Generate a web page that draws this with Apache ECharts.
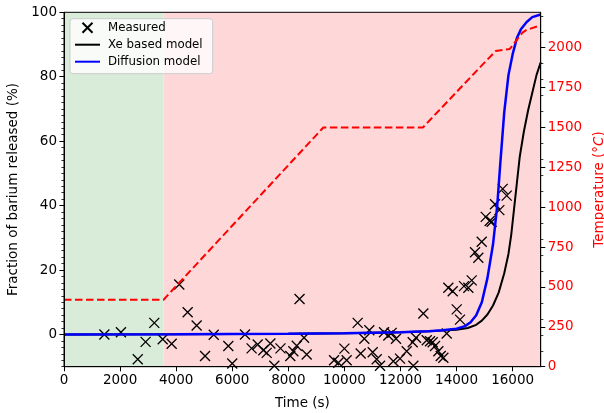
<!DOCTYPE html>
<html>
<head>
<meta charset="utf-8">
<script src="https://cdn.jsdelivr.net/npm/echarts@6/dist/echarts.min.js"></script>
<style>
html,body{margin:0;padding:0;background:#fff;}
#chart{width:604px;height:413px;}
</style>
</head>
<body>
<div id="chart"></div>
<script>
// ---- data ----
const measuredTime = [1440,2030,2630,2910,3220,3520,3840,4110,4410,4730,5030,5340,5860,6000,6455,6690,6907,7108,7228,7360,7500,7720,8070,8178,8300,8400,8560,8655,9630,9783,10000,10080,10473,10580,10710,10888,11009,11152,11270,11413,11566,11685,11744,11840,11983,12221,12435,12458,12553,12815,12935,13053,13148,13231,13350,13435,13528,13648,13706,13862,14005,14122,14265,14420,14540,14658,14775,14896,15040,15180,15252,15371,15525,15645,15788];
const measuredFrac = [0,0.7,-7.7,-2.3,3.6,-1.5,-2.9,15.5,6.9,2.8,-6.7,-0.1,-3.6,-9.0,0,-4.3,-3.1,-4.9,-5.7,-2.8,-9.7,-4.3,-6.7,-5.2,-3.5,11.0,-1.0,-6.2,-8.0,-8.8,-4.4,-8.0,3.6,-5.9,-1.3,1.3,-5.5,-7.7,-9.7,0.7,-0.3,0.5,-8.3,-1.3,-7.5,-5.2,-2.4,-9.7,-1.0,6.5,-1.8,-2.1,-2.4,-3.6,-5.2,-6.7,-7.2,0.3,14.5,13.4,7.8,4.6,15.0,14.5,16.8,25.5,23.8,28.8,36.5,35.2,35.0,40.4,38.6,45.2,43.1];

const xeTime = [0,4000,8000,10000,12000,13000,13500,14000,14400,14700,14900,15100,15300,15500,15700,15850,15950,16050,16150,16250,16400,16550,16700,16850,17000];
const xeFrac = [0,0.05,0.2,0.35,0.7,1.0,1.2,1.5,2.0,3.0,4.3,6.2,9.0,13.0,19.0,25.0,31.0,39.0,47.0,55.0,63.0,69.5,75.0,80.5,84.5];

const diffTime = [0,4000,8000,10000,12000,13000,13500,14000,14300,14500,14700,14900,15100,15300,15450,15550,15700,15850,16000,16150,16300,16500,16700,17000];
const diffFrac = [0,0.05,0.2,0.35,0.7,1.0,1.3,1.8,2.6,3.8,6.0,10.0,17.5,28.0,40.0,52.0,69.0,80.5,87.0,92.0,94.8,97.0,98.5,99.3];

const tempTime = [0,3550,9250,12800,14850,15400,15900,16350,16500,17000];
const tempValue = [420,420,1500,1500,1880,1980,1992,2095,2112,2140];

const phaseBounds = [0,3550,17000];

const timeTicks = [0,2000,4000,6000,8000,10000,12000,14000,16000];
const fracTicks = [0,20,40,60,80,100];
const tempTicks = [0,250,500,750,1000,1250,1500,1750,2000];
const fracMinorTicks = [];
for (let v = -10; v <= 100; v += 2) fracMinorTicks.push(v);
const tempMinorTicks = [];
for (let v = 0; v <= 2200; v += 100) tempMinorTicks.push(v);

const seriesNames = ['Measured','Xe based model','Diffusion model'];

// ---- chart ----
const FONT = 'DejaVu Sans';
const chart = echarts.init(document.getElementById('chart'), null, {renderer:'canvas'});
const zip = (a,b) => a.map((v,i)=>[v,b[i]]);
const XPATH = 'path://M0,0L10,10M0,10L10,0';
const LINEPATH = 'path://M0,0H25V2H0Z';
const plain = v => String(v);

const option = {
  animation:false,
  backgroundColor:'#fff',
  textStyle:{fontFamily:FONT},
  grid:{left:64,right:63.3,top:12.3,bottom:46.3,show:true,borderColor:'#000',borderWidth:1,backgroundColor:'transparent',z:20,containLabel:false,outerBoundsMode:'none'},
  legend:{
    orient:'vertical',left:70,top:18.7,
    padding:[2,10,5,5],
    itemWidth:25,itemHeight:10,itemGap:3,
    backgroundColor:'rgba(255,255,255,0.8)',borderColor:'#cccccc',borderWidth:1,borderRadius:3,
    textStyle:{fontFamily:FONT,fontSize:11.8,color:'#000',lineHeight:14,padding:[0,0,0,3]},
    data:[
      {name:seriesNames[0],icon:XPATH},
      {name:seriesNames[1],icon:LINEPATH},
      {name:seriesNames[2],icon:LINEPATH}
    ],
    z:30
  },
  xAxis:{
    type:'value',min:0,max:17000,z:20,
    name:'Time (s)',nameLocation:'middle',nameGap:30,
    nameTextStyle:{fontFamily:FONT,fontSize:13.5,color:'#000'},
    axisLine:{show:true,onZero:false,lineStyle:{color:'#000',width:1}},
    axisTick:{show:true,length:4.6,lineStyle:{color:'#000',width:1},customValues:timeTicks},
    axisLabel:{fontFamily:FONT,fontSize:13.5,color:'#000',margin:7,customValues:timeTicks,formatter:plain},
    splitLine:{show:false}
  },
  yAxis:[
    {
      type:'value',min:-10,max:100,position:'left',z:20,
      name:'Fraction of barium released (%)',nameLocation:'middle',nameGap:35,nameRotate:90,
      nameTextStyle:{fontFamily:FONT,fontSize:13.5,color:'#000'},
      axisLine:{show:true,onZero:false,lineStyle:{color:'#000',width:1}},
      axisTick:{show:true,length:4.6,lineStyle:{color:'#000',width:1},customValues:fracTicks},
      axisLabel:{fontFamily:FONT,fontSize:13.5,color:'#000',margin:7,customValues:fracTicks,formatter:plain},
      splitLine:{show:false}
    },
    {
      type:'value',min:0,max:2222,position:'right',z:20,
      name:'Temperature (°{i|C})',nameLocation:'middle',nameGap:44,nameRotate:90,
      nameTextStyle:{fontFamily:FONT,fontSize:13.5,color:'#ff0000',rich:{i:{fontFamily:FONT,fontSize:13.5,fontStyle:'italic',color:'#ff0000'}}},
      axisLine:{show:true,onZero:false,lineStyle:{color:'#000',width:1}},
      axisTick:{show:true,length:4.6,lineStyle:{color:'#000',width:1},customValues:tempTicks},
      axisLabel:{fontFamily:FONT,fontSize:13.5,color:'#ff0000',margin:7,customValues:tempTicks,formatter:plain},
      splitLine:{show:false}
    },
    {
      type:'value',min:-10,max:100,position:'left',z:20,
      axisLine:{show:false,onZero:false},
      axisTick:{show:true,length:2.6,lineStyle:{color:'#000',width:0.8},customValues:fracMinorTicks},
      axisLabel:{show:false},splitLine:{show:false}
    },
    {
      type:'value',min:0,max:2222,position:'right',z:20,
      axisLine:{show:false,onZero:false},
      axisTick:{show:true,length:2.6,lineStyle:{color:'#000',width:0.8},customValues:tempMinorTicks},
      axisLabel:{show:false},splitLine:{show:false}
    }
  ],
  series:[
    {
      name:seriesNames[0],type:'scatter',xAxisIndex:0,yAxisIndex:0,z:3,
      symbol:XPATH,symbolSize:10,symbolKeepAspect:true,
      itemStyle:{color:'rgba(0,0,0,0)',borderColor:'#000',borderWidth:1.3,opacity:1},
      data:zip(measuredTime,measuredFrac)
    },
    {
      name:seriesNames[1],type:'line',xAxisIndex:0,yAxisIndex:0,z:4,
      showSymbol:false,symbol:'none',
      lineStyle:{color:'#000',width:2},itemStyle:{color:'#000'},
      data:zip(xeTime,xeFrac)
    },
    {
      name:seriesNames[2],type:'line',xAxisIndex:0,yAxisIndex:0,z:9,
      showSymbol:false,symbol:'none',
      lineStyle:{color:'#0000ff',width:2.5},itemStyle:{color:'#0000ff'},
      data:zip(diffTime,diffFrac)
    },
    {
      name:'Temperature',type:'line',xAxisIndex:0,yAxisIndex:1,z:12,
      showSymbol:false,symbol:'none',
      lineStyle:{color:'#ff0000',width:2,type:[7.5,3.5]},itemStyle:{color:'#ff0000'},
      data:zip(tempTime,tempValue),
      markArea:{
        silent:true,z:1,
        data:[
          [{xAxis:phaseBounds[0],itemStyle:{color:'#d9ebd9'}},{xAxis:phaseBounds[1]}],
          [{xAxis:phaseBounds[1],itemStyle:{color:'#fed7d8'}},{xAxis:phaseBounds[2]}]
        ]
      }
    }
  ]
};
chart.setOption(option);
</script>
</body>
</html>
